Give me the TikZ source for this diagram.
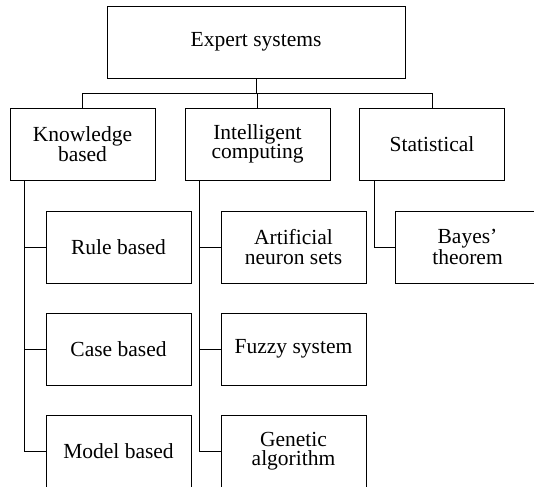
\documentclass[tikz,border=0pt]{standalone}
\usepackage{fontspec}
\setmainfont{Liberation Serif}
\tikzset{
    box/.style={draw, line width=0.9pt, minimum width=145pt, minimum height=72pt, inner sep=0pt, align=center, font=\fontsize{21.5}{19.5}\selectfont},
    link/.style={line width=0.9pt}
}
\begin{document}
\begin{tikzpicture}[x=1pt, y=-1pt]
        \useasboundingbox (0, 0) rectangle (534, 486);
        \clip (0, 0) rectangle (534, 486);

        \node[box, minimum width=298pt] (expert) at (256, 42) {Expert systems};

        \node[box] (know) at (82.5, 144) {Knowledge\\based};
        \node[box] (intel) at (257.5, 144) {Intelligent\\computing};
        \node[box] (stat) at (432, 144) {Statistical};

        \node[box] (rule) at (118.5, 247) {Rule based};
        \node[box] (case) at (118.5, 349) {Case based};
        \node[box] (model) at (118.5, 451) {Model based};

        \node[box] (neuron) at (293.5, 247) {Artificial\\neuron sets};
        \node[box] (fuzzy) at (293.5, 349) {Fuzzy system};
        \node[box] (genetic) at (293.5, 451) {Genetic\\algorithm};

        \node[box] (bayes) at (467.5, 247) {Bayes'\\theorem};

        % top level bus
        \draw[link] (expert.south) -- ++(0, 15.5) -| (know.north);
        \draw[link] (expert.south) -- ++(0, 15.5) -| (intel.north);
        \draw[link] (expert.south) -- ++(0, 15.5) -| (stat.north);

        % branches
        \foreach \leaf in {rule, case, model}
            \draw[link] ([xshift=-58pt]know.south) |- (\leaf.west);
        \foreach \leaf in {neuron, fuzzy, genetic}
            \draw[link] ([xshift=-58pt]intel.south) |- (\leaf.west);
        \draw[link] ([xshift=-58pt]stat.south) |- (bayes.west);
\end{tikzpicture}
\end{document}
